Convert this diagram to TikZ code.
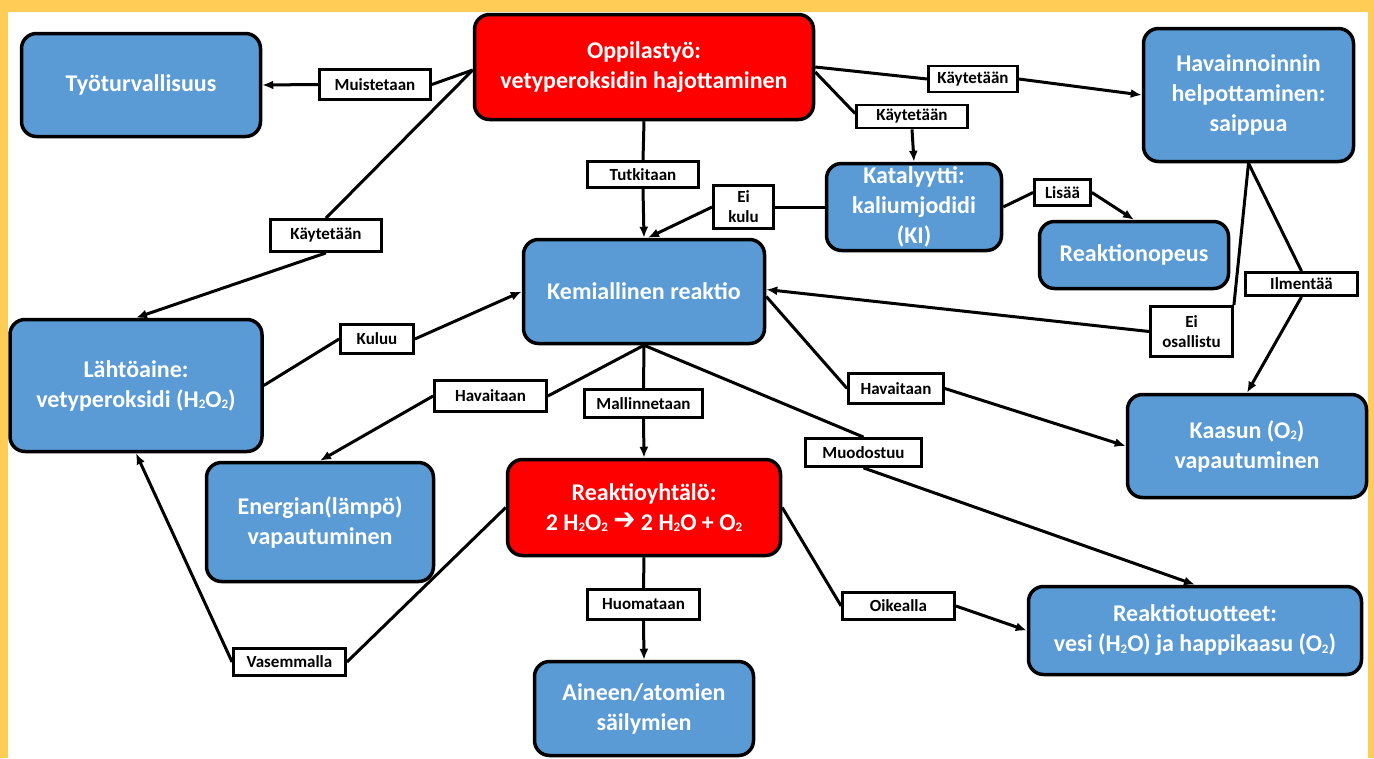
\documentclass[tikz,border=0pt]{standalone}
\usepackage{fontspec}
\setmainfont{Carlito}
\newfontfamily\djv{DejaVu Sans}
\usetikzlibrary{arrows.meta}
\definecolor{frameY}{RGB}{255,204,85}
\definecolor{nodeblue}{RGB}{91,155,213}
\definecolor{nodered}{RGB}{255,0,0}
\tikzset{
  concept/.style={draw=black, line width=3.5pt, rounded corners=15pt, fill=nodeblue,
    text=white, font=\fontsize{24}{30}\selectfont\bfseries, align=center, inner sep=0pt},
  redconcept/.style={concept, fill=nodered},
  lbl/.style={draw=black, line width=2.8pt, fill=white, text=black,
    font=\fontsize{17}{20}\selectfont\bfseries, align=center, inner sep=0pt},
  wh/.style 2 args={minimum width=#1pt, minimum height=#2pt},
  conn/.style={line width=3pt, draw=black},
  arr/.style={conn, -{Latex[length=11pt,width=9pt]}},
}
\newcommand{\sub}[1]{\raisebox{-1.5pt}{\fontsize{13}{13}\selectfont #1}}
\newcommand{\heavyarrow}{\raisebox{1pt}{\scalebox{1.1}[1.25]{\djv ➔}}}
\begin{document}
\begin{tikzpicture}[x=1pt,y=-1pt]
\useasboundingbox (0,0) rectangle (1374,758);
\fill[frameY] (0,0) rectangle (1374,758);
\fill[white] (8,12) rectangle (1368,758);

% concept nodes
\node[concept, wh={239}{103}] (tyo) at (141,85) {Työturvallisuus};
\node[redconcept, wh={339}{105}] (opp) at (644,67) {Oppilastyö:\\vetyperoksidin hajottaminen};
\node[concept, wh={210}{133}] (hav) at (1248.5,95) {Havainnoinnin\\helpottaminen:\\saippua};
\node[concept, wh={175}{87}] (kat) at (914,207) {Katalyytti:\\kaliumjodidi\\(KI)};
\node[concept, wh={189}{67}] (reak) at (1134,255) {Reaktionopeus};
\node[concept, wh={241}{104}] (kem) at (644,291.5) {Kemiallinen reaktio};
\node[concept, wh={252}{132}] (lah) at (136,385.5) {Lähtöaine:\\vetyperoksidi (H\sub{2}O\sub{2})};
\node[concept, wh={227}{119}] (ene) at (320,522) {Energian(lämpö)\\vapautuminen};
\node[redconcept, wh={273}{96}] (rey) at (644,507.5) {Reaktioyhtälö:\\2 H\sub{2}O\sub{2} \heavyarrow{} 2 H\sub{2}O + O\sub{2}};
\node[concept, wh={239}{103}] (kaa) at (1247,446) {Kaasun (O\sub{2})\\vapautuminen};
\node[concept, wh={333}{88}] (rtu) at (1195,630.5) {Reaktiotuotteet:\\vesi (H\sub{2}O) ja happikaasu (O\sub{2})};
\node[concept, wh={219}{94}] (ain) at (644,708.5) {Aineen/atomien\\säilymien};

% link labels
\node[lbl, wh={111}{30}] (mui) at (375,84.5) {Muistetaan};
\node[lbl, wh={89}{26}] (kay1) at (973,79) {Käytetään};
\node[lbl, wh={111}{23}] (kay2) at (912,116.5) {Käytetään};
\node[lbl, wh={111}{26}] (tut) at (643,174.5) {Tutkitaan};
\node[lbl, wh={60}{43}] (eik) at (743.5,207) {Ei\\kulu};
\node[lbl, wh={56}{26}] (lis) at (1062.5,192.5) {Lisää};
\node[lbl, wh={111}{32}] (kay3) at (326,235.5) {Käytetään};
\node[lbl, wh={73}{29}] (kul) at (377,339) {Kuluu};
\node[lbl, wh={112}{31}] (hv1) at (490.5,396) {Havaitaan};
\node[lbl, wh={118}{28}] (mal) at (643.5,403.5) {Mallinnetaan};
\node[lbl, wh={95}{30}] (hv2) at (896,388.5) {Havaitaan};
\node[lbl, wh={116}{28}] (muo) at (863.5,452.5) {Muodostuu};
\node[lbl, wh={112}{23}] (ilm) at (1301.5,284) {Ilmentää};
\node[lbl, wh={82}{50}] (eio) at (1191.5,331.5) {Ei\\osallistu};
\node[lbl, wh={112}{30}] (huo) at (643.5,604.5) {Huomataan};
\node[lbl, wh={112}{27}] (oik) at (898.5,606) {Oikealla};
\node[lbl, wh={112}{27}] (vas) at (289.5,662) {Vasemmalla};

% connectors
\draw[conn] ([yshift=-3pt]opp.west) -- (mui.east);
\draw[arr] (mui.west) -- (tyo.east);
\draw[conn] ([yshift=-3pt]opp.west) -- (kay3.north);
\draw[arr] (kay3.south) -- (lah.north);
\draw[conn] (opp.south) -- (tut.north);
\draw[arr] (tut.south) -- (kem.north);
\draw[conn] (opp.east) -- (kay1.west);
\draw[arr] (kay1.east) -- (hav.west);
\draw[conn] ([yshift=-5pt]opp.east) -- ([yshift=3pt]kay2.west);
\draw[arr] (kay2.south) -- (kat.north);
\draw[conn] (kat.west) -- (eik.east);
\draw[arr] (eik.west) -- ([xshift=4pt]kem.north);
\draw[conn] (kat.east) -- (lis.west);
\draw[arr] (lis.east) -- (reak.north);
\draw[conn] (hav.south) -- (eio.north east);
\draw[arr] (eio.west) -- ([yshift=2pt]kem.east);
\draw[conn] (hav.south) -- (ilm.north);
\draw[arr] (ilm.south) -- (kaa.north);
\draw[conn] (lah.east) -- (kul.west);
\draw[arr] (kul.east) -- (kem.west);
\draw[conn] (kem.south) -- (hv1.east);
\draw[arr] (hv1.west) -- (ene.north);
\draw[conn] (kem.south) -- (mal.north);
\draw[arr] (mal.south) -- (rey.north);
\draw[conn] (kem.south) -- (muo.north);
\draw[arr] (muo.south) -- (rtu.north);
\draw[conn] ([yshift=-5pt]kem.east) -- (hv2.west);
\draw[arr] (hv2.east) -- (kaa.west);
\draw[conn] (rey.west) -- (vas.east);
\draw[arr] (vas.west) -- (lah.south);
\draw[conn] (rey.south) -- (huo.north);
\draw[arr] (huo.south) -- (ain.north);
\draw[conn] (rey.east) -- (oik.west);
\draw[arr] (oik.east) -- (rtu.west);
\end{tikzpicture}
\end{document}
